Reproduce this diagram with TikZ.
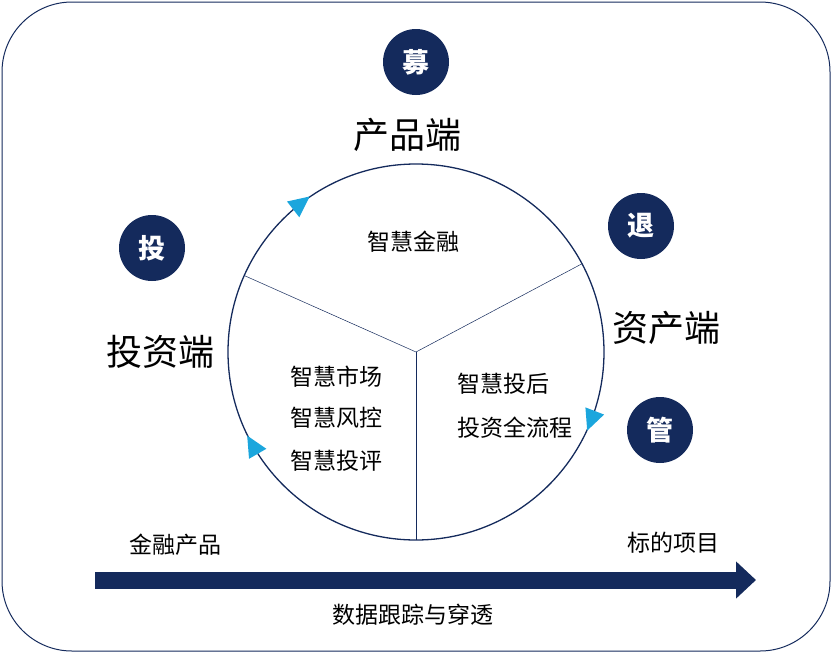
\documentclass[tikz,border=0pt]{standalone}
\usepackage{fontspec}
\setmainfont{Noto Sans CJK SC}
\usetikzlibrary{calc,arrows.meta}
\definecolor{navy}{HTML}{142A5C}
\definecolor{tcyan}{HTML}{1BA6DD}
\begin{document}
\begin{tikzpicture}[x=1pt,y=-1pt,
  badge/.style={circle,fill=navy,minimum size=66pt,inner sep=0pt,text=white,font=\fontsize{27}{27}\selectfont\bfseries},
  big/.style={font=\fontsize{36}{37}\selectfont},
  mid/.style={font=\fontsize{23}{24}\selectfont},
  sml/.style={font=\fontsize{23}{24}\selectfont}]
\useasboundingbox (0,0) rectangle (832,653);
\draw[navy,line width=1pt,rounded corners=70pt] (2,2) rectangle (830,651);
\coordinate (C) at (416,352);
\node[circle,draw=navy,line width=1.3pt,minimum size=376pt,inner sep=0pt] (ring) at (C) {};
\foreach \a/\n in {204/l1,-28/l2,90/l3}{
  \coordinate (\n) at ($(C)+(\a:188)$);
  \draw[navy,line width=0.5pt] (C) -- (\n);}
\foreach \a in {232,21,150}{
  \fill[tcyan] ($(C)+(\a:188)+(\a+90:12)$) -- ($(C)+(\a:188)+(\a+90:-9)+(\a:10)$) -- ($(C)+(\a:188)+(\a+90:-9)+(\a:-10)$) -- cycle;}
\node[badge] (b1) at (416,62) {募};
\node[badge] (b2) at (152,248) {投};
\node[badge] (b3) at (641,226) {退};
\node[badge] (b4) at (660,430) {管};
\node[big] (t1) at (407,135) {产品端};
\node[big] (t2) at (160,352) {投资端};
\node[big] (t3) at (666,328) {资产端};
\node[mid] (i1) at (413,242) {智慧金融};
\node[mid] (i2) at (336,377) {智慧市场};
\node[mid] (i3) at (336,418) {智慧风控};
\node[mid] (i4) at (336,461) {智慧投评};
\node[mid] (i5) at (503,384) {智慧投后};
\node[mid] (i6) at (515,428) {投资全流程};
\node[sml] (f1) at (175,545) {金融产品};
\node[sml] (f2) at (673,543) {标的项目};
\coordinate (a0) at (95,580);
\coordinate (a1) at (756,580);
\draw[navy,line width=17pt,-{Triangle[length=20pt,width=36pt]}] (a0) -- (a1);
\node[sml] (f3) at (413,615) {数据跟踪与穿透};
\end{tikzpicture}
\end{document}
